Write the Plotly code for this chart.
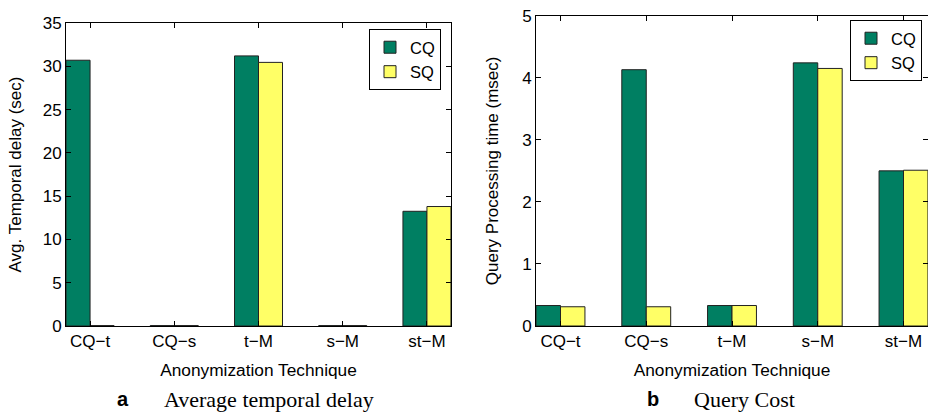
import plotly.graph_objects as go

categories = ["CQ\u2212t", "CQ\u2212s", "t\u2212M", "s\u2212M", "st\u2212M"]
series_names = ["CQ", "SQ"]

delay_cq = [30.7, 0.05, 31.2, 0.05, 13.25]
delay_sq = [0.05, 0.05, 30.45, 0.05, 13.8]

cost_cq = [0.33, 4.13, 0.33, 4.24, 2.50]
cost_sq = [0.31, 0.31, 0.33, 4.15, 2.51]

y1_ticks = [0, 5, 10, 15, 20, 25, 30, 35]
y2_ticks = [0, 1, 2, 3, 4, 5]

GREEN = "#007f62"
YELLOW = "#ffff66"
SANS = "Liberation Sans, Arial, Helvetica, sans-serif"
SERIF = "Liberation Serif, Times New Roman, serif"

W, H = 928, 414

fig = go.Figure()

for name, vals, col in [(series_names[0], delay_cq, GREEN), (series_names[1], delay_sq, YELLOW)]:
    fig.add_trace(go.Bar(x=categories, y=vals, name=name, marker=dict(color=col, line=dict(color="#222", width=1)),
                         xaxis="x", yaxis="y", legend="legend"))
for name, vals, col in [(series_names[0], cost_cq, GREEN), (series_names[1], cost_sq, YELLOW)]:
    fig.add_trace(go.Bar(x=categories, y=vals, name=name, marker=dict(color=col, line=dict(color="#222", width=1)),
                         xaxis="x2", yaxis="y2", legend="legend2"))

def px_x(p):
    return p / W

def px_y(p):
    return (H - p) / H

axis_common = dict(showline=True, linecolor="black", linewidth=1, mirror="ticks", ticks="inside",
                   ticklen=5, tickcolor="black", showgrid=False, zeroline=False,
                   tickfont=dict(family=SANS, size=17, color="black"), automargin=False)

fig.update_layout(
    width=W, height=H,
    margin=dict(l=0, r=0, t=0, b=0),
    paper_bgcolor="white", plot_bgcolor="white",
    barmode="group", bargap=0.43, bargroupgap=0,
    font=dict(family=SANS, size=16, color="black"),
    xaxis=dict(domain=[px_x(66), px_x(451)], anchor="y", range=[-0.2857, 4.2857],
               categoryorder="array", categoryarray=categories,
               title=dict(text="Anonymization Technique", font=dict(family=SANS, size=17.3), standoff=13),
               **axis_common),
    yaxis=dict(domain=[px_y(326), px_y(23)], anchor="x", range=[0, 35], tickvals=y1_ticks,
               title=dict(text="Avg. Temporal delay (sec)", font=dict(family=SANS, size=17), standoff=16),
               **axis_common),
    xaxis2=dict(domain=[px_x(536), 1.0], anchor="y2", range=[-0.2857, 4.2857],
                categoryorder="array", categoryarray=categories,
                title=dict(text="Anonymization Technique", font=dict(family=SANS, size=17.3), standoff=13),
                **axis_common),
    yaxis2=dict(domain=[px_y(326), px_y(15.7)], anchor="x2", range=[0, 5], tickvals=y2_ticks,
                title=dict(text="Query Processing time (msec)", font=dict(family=SANS, size=17), standoff=19),
                **axis_common),
    legend=dict(x=px_x(441), xanchor="right", y=px_y(29), yanchor="top",
                bgcolor="white", bordercolor="black", borderwidth=1,
                font=dict(family=SANS, size=16.5), itemwidth=30, tracegroupgap=0),
    legend2=dict(x=px_x(922), xanchor="right", y=px_y(20), yanchor="top",
                 bgcolor="white", bordercolor="black", borderwidth=1,
                 font=dict(family=SANS, size=16.5), itemwidth=30, tracegroupgap=0),
    showlegend=True,
)

captions = [("a", "Average temporal delay", 123, 162), ("b", "Query Cost", 653, 692)]
for letter, text, lx, tx in captions:
    fig.add_annotation(x=px_x(lx), y=px_y(399), xref="paper", yref="paper", text="<b>" + letter + "</b>",
                       showarrow=False, xanchor="center", yanchor="middle",
                       font=dict(family=SANS, size=20, color="black"))
    fig.add_annotation(x=px_x(tx), y=px_y(399), xref="paper", yref="paper", text=text,
                       showarrow=False, xanchor="left", yanchor="middle",
                       font=dict(family=SERIF, size=22, color="black"))

fig.write_html("out.html", config={"displayModeBar": False},
               post_script="document.body.style.margin='0';document.body.style.overflow='hidden';")
